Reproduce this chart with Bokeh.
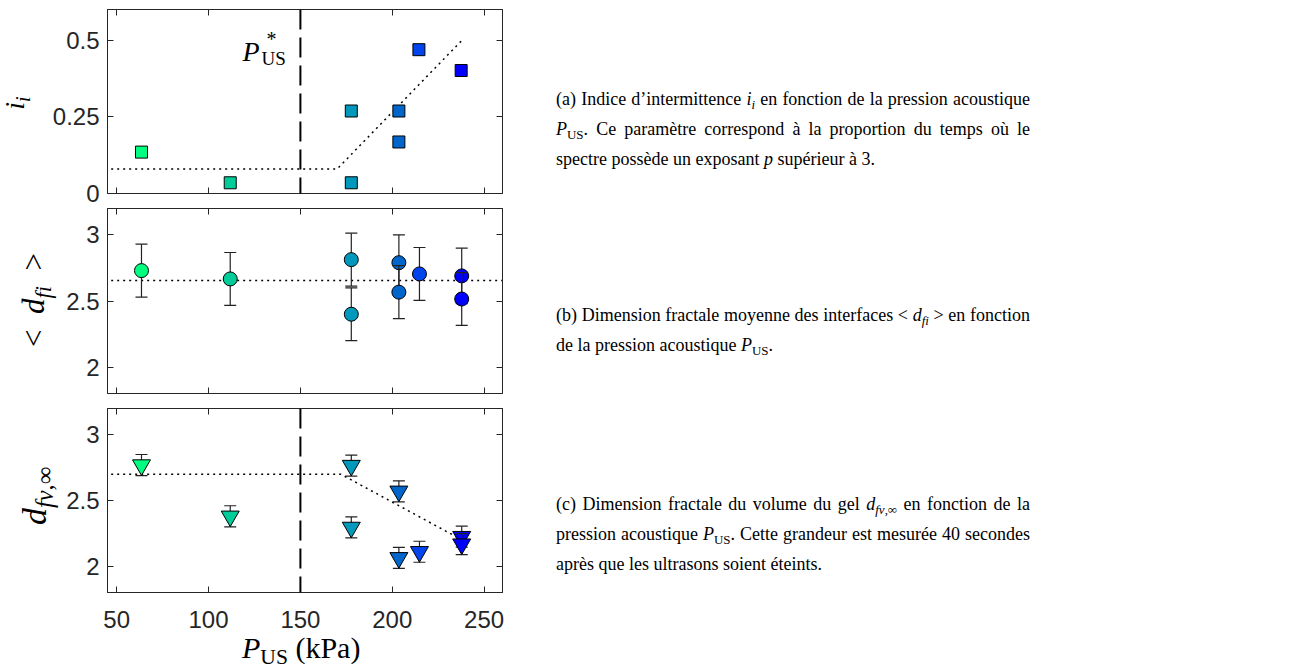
import math
from bokeh.plotting import figure
from bokeh.models import Range1d, FixedTicker, LinearAxis, Label, Div, Span
from bokeh.layouts import column, row
from bokeh.embed import file_html
from bokeh.resources import INLINE

# ---------------- data ----------------
x_ticks = [50, 100, 150, 200, 250]
p_threshold = 150

# (a) intermittency index
p_us_a = [63.5, 111.8, 177.7, 177.7, 203.6, 203.6, 214.5, 237.5]
i_i = [0.135, 0.035, 0.269, 0.035, 0.269, 0.168, 0.469, 0.401]
fit_a_x = [47, 170, 238]
fit_a_y = [0.08, 0.08, 0.50]

# (b) mean fractal dimension of interfaces
p_us_b = [63.5, 111.8, 177.7, 177.7, 203.6, 203.6, 214.8, 237.8, 237.8]
d_fi = [2.73, 2.667, 2.813, 2.40, 2.79, 2.567, 2.705, 2.69, 2.515]
d_fi_err = [0.20, 0.20, 0.20, 0.20, 0.21, 0.20, 0.20, 0.21, 0.20]
fit_b_x = [47, 260]
fit_b_y = [2.655, 2.655]

# (c) fractal dimension of gel volume
p_us_c = [63.5, 111.8, 177.7, 177.7, 203.6, 203.6, 214.8, 237.8, 237.8]
d_fv = [2.77, 2.38, 2.766, 2.295, 2.57, 2.064, 2.11, 2.225, 2.168]
d_fv_err = [0.08, 0.08, 0.08, 0.08, 0.08, 0.08, 0.08, 0.08, 0.08]
fit_c_x = [47, 172, 238]
fit_c_y = [2.70, 2.70, 2.20]

# ---------------- styles ----------------
COL = {63.5: "#00FF80", 111.8: "#00CC99", 177.7: "#0099BB", 203.6: "#0066CC",
       214.5: "#0044EE", 214.8: "#0044EE", 237.5: "#0000FF", 237.8: "#0000FF"}
AX = "#262626"
SANS = "Liberation Sans"
SERIF = "Liberation Serif"
FW = 395
XR = (45, 260)
LABCOL_W = 37
FIG_LEFT = 70
FIG_RIGHT = 20
FRAME_LEFT = LABCOL_W + FIG_LEFT
FIG_W = FIG_LEFT + FW + FIG_RIGHT


def make_panel(yr, yticks, ylabels, fh, top, bottom, show_x):
    p = figure(frame_width=FW, frame_height=fh, x_range=Range1d(*XR), y_range=Range1d(*yr),
               output_backend="svg", toolbar_location=None,
               x_axis_location=None, y_axis_location=None,
               min_border_left=FIG_LEFT, min_border_right=FIG_RIGHT,
               min_border_top=top, min_border_bottom=bottom)
    p.grid.visible = False
    p.outline_line_color = AX
    p.outline_line_width = 1
    p.background_fill_color = "white"
    p.border_fill_alpha = 0
    for loc in ("below", "above", "left", "right"):
        is_x = loc in ("below", "above")
        ax = LinearAxis(ticker=FixedTicker(ticks=x_ticks if is_x else yticks))
        ax.axis_line_color = AX
        ax.major_tick_line_color = AX
        ax.major_tick_in = 6
        ax.major_tick_out = 0
        ax.minor_tick_line_color = None
        show = (loc == "left") or (loc == "below" and show_x)
        if show:
            ax.major_label_text_font = SANS
            ax.major_label_text_font_size = "24px"
            ax.major_label_text_color = AX
            ax.major_label_standoff = 8 if loc == "left" else 18
            if loc == "left":
                ax.major_label_overrides = {t: l for t, l in zip(yticks, ylabels)}
        else:
            ax.major_label_text_font_size = "0px"
            ax.major_label_standoff = 0
            ax.major_label_text_alpha = 0
        p.add_layout(ax, loc)
    for r in p.grid:
        r.visible = False
    return p


def px2x(px):
    return XR[0] + (px - FRAME_LEFT) * (XR[1] - XR[0]) / FW


def px2y(py, top_px, yr, fh):
    return yr[1] - (py - top_px) * (yr[1] - yr[0]) / fh


def lab(p, x, y, text, size, italic=False):
    p.add_layout(Label(x=x, y=y, text=text, text_font=SERIF,
                       text_font_size=f"{size}px",
                       text_font_style="italic" if italic else "normal",
                       text_color="black", text_align="left",
                       text_baseline="alphabetic"))


# ---------------- panel (a) ----------------
YA = (0, 0.6)
FHA, TOPA = 184, 9
pa = make_panel(YA, [0, 0.25, 0.5], ["0", "0.25", "0.5"], FHA, 9, 13, False)
pa.add_layout(Span(location=p_threshold, dimension="height", line_color="black",
                   line_width=2, line_dash="20 8"))
pa.line(fit_a_x, fit_a_y, line_color="black", line_width=1.5, line_dash="2 4")
pa.scatter(p_us_a, i_i, marker="square", size=12,
           fill_color=[COL[x] for x in p_us_a], line_color="black", line_width=1)
ya = lambda py: px2y(py, TOPA, YA, FHA)
lab(pa, px2x(242), ya(51), "P", 28, True)
lab(pa, px2x(266), ya(38), "*", 20)
lab(pa, px2x(261), ya(58), "US", 19)

# ---------------- panel (b) ----------------
YB = (1.8, 3.2)
FHB = 185
pb = make_panel(YB, [2, 2.5, 3], ["2", "2.5", "3"], FHB, 2, 7, False)
pb.line(fit_b_x, fit_b_y, line_color="black", line_width=1.5, line_dash="2 4")
for x, y, e in zip(p_us_b, d_fi, d_fi_err):
    pb.segment(x0=[x], y0=[y - e], x1=[x], y1=[y + e], line_color="#222222", line_width=1.2)
    pb.scatter([x, x], [y - e, y + e], marker="dash", size=12, line_color="#222222", line_width=1.2)
    pb.scatter([x], [y], marker="circle", size=14, fill_color=COL[x],
               line_color="black", line_width=1)

# ---------------- panel (c) ----------------
YC = (1.8, 3.2)
FHC = 184
pc = make_panel(YC, [2, 2.5, 3], ["2", "2.5", "3"], FHC, 8, 48, True)
pc.add_layout(Span(location=p_threshold, dimension="height", line_color="black",
                   line_width=2, line_dash="20 8"))
pc.line(fit_c_x, fit_c_y, line_color="black", line_width=1.5, line_dash="2 4")
for x, y, e in zip(p_us_c, d_fv, d_fv_err):
    pc.segment(x0=[x], y0=[y - e], x1=[x], y1=[y + e], line_color="#222222", line_width=1.2)
    pc.scatter([x, x], [y - e, y + e], marker="dash", size=12, line_color="#222222", line_width=1.2)
    pc.scatter([x], [y], marker="inverted_triangle", size=18, fill_color=COL[x],
               line_color="black", line_width=1)

# ---------------- axis labels (HTML text) ----------------
SUBS = "font-size:72%;vertical-align:-0.3em;line-height:0;"
NOMARGIN = (0, 0, 0, 0)


def ylab_div(html, h, cx, cy, fs):
    inner = (f'<div style="position:relative;width:{LABCOL_W}px;height:{h}px;">'
             f'<div style="position:absolute;left:{cx}px;top:{cy}px;'
             f'transform:translate(-50%,-50%) rotate(-90deg);white-space:nowrap;'
             f'font-family:{SERIF};font-size:{fs}px;line-height:normal;color:black;">'
             f'{html}</div></div>')
    return Div(text=inner, width=LABCOL_W, height=h, margin=NOMARGIN,
               styles={"overflow": "visible", "z-index": "2"})


la = ylab_div(f'<i>i</i><sub style="{SUBS}"><i>i</i></sub>', 200, 15, 103, 28)
lb = ylab_div(f'&lt;&ensp;<i>d</i><sub style="{SUBS}"><i>fi</i></sub>&ensp;&gt;',
              200, 34, 100, 31)
lc = ylab_div(f'<i>d</i><sub style="{SUBS}"><i>fv</i>,\u221e</sub>', 267, 35, 96, 34)

xl = Div(text=(f'<div style="position:relative;width:{FIG_W}px;height:27px;">'
               f'<div style="position:absolute;left:{242 - LABCOL_W}px;top:-7px;white-space:nowrap;'
               f'font-family:{SERIF};font-size:30px;line-height:30px;color:black;">'
               f'<i>P</i><sub style="{SUBS}">US</sub>&nbsp;(kPa)</div></div>'),
         width=FIG_W, height=27, margin=NOMARGIN, styles={"overflow": "visible"})

# ---------------- captions ----------------
SUB = f'<sub style="{SUBS}">'


def cline(html, just=True):
    st = "width:474px;white-space:nowrap;height:30px;line-height:30px;"
    if just:
        st += "text-align:justify;text-align-last:justify;"
    return f'<div style="{st}">{html}</div>'


PUS = f'<i>P</i>{SUB}US</sub>'
cap_a = (cline(f"(a) Indice d\u2019intermittence <i>i</i>{SUB}<i>i</i></sub> en fonction de la pression acoustique")
         + cline(f"{PUS}. Ce param\u00e8tre correspond \u00e0 la proportion du temps o\u00f9 le")
         + cline("spectre poss\u00e8de un exposant <i>p</i> sup\u00e9rieur \u00e0 3.", False))
cap_b = (cline(f"(b) Dimension fractale moyenne des interfaces &lt; <i>d</i>{SUB}<i>fi</i></sub> &gt; en fonction")
         + cline(f"de la pression acoustique {PUS}.", False))
cap_c = (cline(f"(c) Dimension fractale du volume du gel <i>d</i>{SUB}<i>fv</i>,\u221e</sub> en fonction de la")
         + cline(f"pression acoustique {PUS}. Cette grandeur est mesur\u00e9e 40 secondes")
         + cline("apr\u00e8s que les ultrasons soient \u00e9teints.", False))

CAP_PAD_LEFT = 556 - (LABCOL_W + FIG_W)


def cdiv(html, h, pad_top):
    return Div(text=(f'<div style="padding-left:{CAP_PAD_LEFT}px;padding-top:{pad_top}px;'
                     f'font-family:{SERIF};font-size:18px;color:black;">{html}</div>'),
               width=760, height=h, margin=NOMARGIN, styles={"overflow": "visible"})


da = cdiv(cap_a, 200, 84)
db = cdiv(cap_b, 200, 100)
dc = cdiv(cap_c, 267, 89)

layout = row(column(la, lb, lc), column(pa, pb, pc, xl), column(da, db, dc))
open("out.html", "w").write(file_html(layout, INLINE))
